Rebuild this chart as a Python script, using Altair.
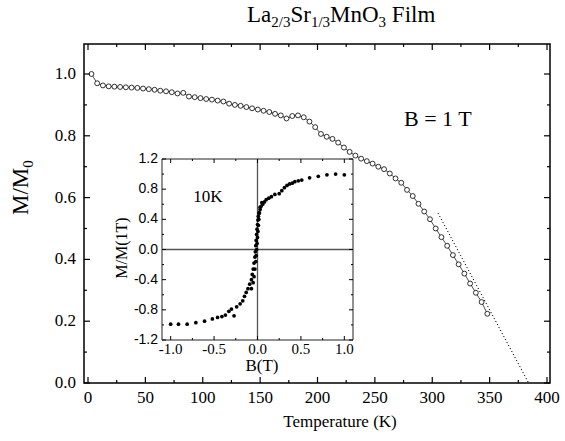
import altair as alt
import pandas as pd

# ---------------- data ----------------
temp_K = [3, 8, 13, 18, 23, 28, 33, 38, 43, 48, 53, 58, 63, 68, 73, 78, 83, 88, 93, 98,
          103, 108, 113, 118, 123, 128, 133, 138, 143, 148, 153, 158, 163, 168, 173, 178,
          183, 188, 193, 198, 203, 208, 213, 218, 223, 228, 233, 238, 243, 248, 253, 258,
          263, 268, 273, 278, 283, 288, 293, 298, 303, 308, 313, 318, 323, 328, 333, 338,
          343, 348]
m_norm = [1.000, 0.970, 0.963, 0.960, 0.959, 0.958, 0.957, 0.956, 0.955, 0.953, 0.951,
          0.949, 0.946, 0.944, 0.941, 0.937, 0.939, 0.927, 0.925, 0.922, 0.919, 0.917,
          0.914, 0.911, 0.904, 0.900, 0.897, 0.893, 0.889, 0.885, 0.881, 0.877, 0.871,
          0.866, 0.856, 0.864, 0.866, 0.860, 0.846, 0.828, 0.806, 0.797, 0.790, 0.778,
          0.762, 0.748, 0.736, 0.726, 0.718, 0.710, 0.700, 0.692, 0.678, 0.662, 0.648,
          0.625, 0.605, 0.580, 0.555, 0.530, 0.500, 0.472, 0.444, 0.414, 0.384, 0.354,
          0.322, 0.292, 0.262, 0.224]

fit_T = [305, 384]
fit_M = [0.55, 0.0]

field_T = [-1.00, -0.91, -0.81, -0.71, -0.61, -0.52, -0.46, -0.41, -0.37, -0.33, -0.30,
           -0.27, -0.24, -0.20, -0.17, -0.15, -0.13, -0.11, -0.09, -0.07, -0.06, -0.05,
           -0.04, -0.03, -0.025, -0.02, -0.015, -0.01, -0.005, 0.0, 0.005, 0.01, 0.02,
           0.03, 0.04, 0.06, 0.08, 0.10, 0.13, 0.16, 0.20, 0.25, 0.28, 0.31, 0.34, 0.37,
           0.40, 0.43, 0.47, 0.51, 0.60, 0.70, 0.80, 0.90, 1.00,
           0.05, 0.03, 0.02, 0.015, 0.01, 0.005, 0.0, -0.005, -0.01, -0.015, -0.02, -0.03,
           -0.04, -0.05, -0.07]
m_rel = [-0.99, -0.99, -0.99, -0.97, -0.95, -0.92, -0.90, -0.89, -0.87, -0.82, -0.79,
         -0.88, -0.76, -0.72, -0.68, -0.62, -0.57, -0.52, -0.46, -0.40, -0.33, -0.26,
         -0.18, -0.10, -0.03, 0.05, 0.12, 0.20, 0.27, 0.33, 0.39, 0.44, 0.49, 0.53, 0.57,
         0.60, 0.63, 0.66, 0.68, 0.70, 0.73, 0.74, 0.78, 0.82, 0.85, 0.87, 0.88, 0.90,
         0.91, 0.92, 0.95, 0.97, 0.99, 1.00, 0.99,
         0.62, 0.56, 0.48, 0.40, 0.32, 0.24, 0.16, 0.08, 0.0, -0.08, -0.16, -0.26,
         -0.36, -0.44, -0.52]

main_x_major = [0, 50, 100, 150, 200, 250, 300, 350, 400]
main_x_labels = ["0", "50", "100", "150", "200", "250", "300", "350", "400"]
main_x_minor = [25, 75, 125, 175, 225, 275, 325, 375]
main_y_major = [0.0, 0.2, 0.4, 0.6, 0.8, 1.0]
main_y_labels = ["0.0", "0.2", "0.4", "0.6", "0.8", "1.0"]
main_y_minor = [0.1, 0.3, 0.5, 0.7, 0.9]
ins_x_major = [-1.0, -0.5, 0.0, 0.5, 1.0]
ins_x_labels = ["-1.0", "-0.5", "0.0", "0.5", "1.0"]
ins_x_minor = [-0.75, -0.25, 0.25, 0.75]
ins_y_major = [-1.2, -0.8, -0.4, 0.0, 0.4, 0.8, 1.2]
ins_y_labels = ["-1.2", "-0.8", "-0.4", "0.0", "0.4", "0.8", "1.2"]
ins_y_minor = [-1.0, -0.6, -0.2, 0.2, 0.6, 1.0]

# ---------------- layout ----------------
W, H = 466, 339
PAD = {"left": 84, "top": 44, "right": 15, "bottom": 58}
SERIF = "Liberation Serif"
SANS = "Liberation Sans"

TIMES_W = {'L': 611, 'a': 444, 'S': 556, 'r': 333, 'M': 889, 'n': 500, 'O': 722,
           ' ': 250, 'F': 556, 'i': 278, 'l': 278, 'm': 778, '/': 278, '(': 333,
           ')': 333, 'T': 611, 'B': 667, '=': 564, 'K': 722}


def tw(s, fs):
    return sum(TIMES_W.get(c, 500) for c in s) * fs / 1000.0


xs = alt.Scale(domain=[-4 / 1.1475, 400 + 3 / 1.1475], nice=False, zero=False)
ys = alt.Scale(domain=[0, 1.0 + 30 / 309], nice=False, zero=False)

# inset box in plot pixels
IX0, IX1, IY0, IY1 = 78, 269, 115, 296
BMIN, BMAX, MMIN, MMAX = -1.1, 1.1, -1.2, 1.2
kx = (IX1 - IX0) / (BMAX - BMIN)
ky = (IY1 - IY0) / (MMAX - MMIN)
ixs = alt.Scale(domain=[BMIN - IX0 / kx, BMAX + (W - IX1) / kx], nice=False, zero=False)
iys = alt.Scale(domain=[MMIN - (H - IY1) / ky, MMAX + IY0 / ky], nice=False, zero=False)

one = pd.DataFrame({"a": [0]})


def label(txt, x, y, fs, font=SERIF, angle=0, align="left", baseline="alphabetic"):
    kw = dict(text=txt, font=font, fontSize=fs, color="black", align=align,
              baseline=baseline)
    if angle:
        kw["angle"] = angle
    return alt.Chart(one).mark_text(**kw).encode(x=alt.value(x), y=alt.value(y))


# ---------------- main panel ----------------
main_df = pd.DataFrame({"T": temp_K, "M": m_norm})
fit_df = pd.DataFrame({"T": fit_T, "M": fit_M})

line = alt.Chart(main_df).mark_line(color="black", strokeWidth=0.7).encode(
    x=alt.X("T:Q", scale=xs, axis=None), y=alt.Y("M:Q", scale=ys, axis=None))
pts = alt.Chart(main_df).mark_point(shape="circle", filled=True, fill="white",
                                    stroke="black", strokeWidth=0.8, size=24,
                                    opacity=1).encode(
    x=alt.X("T:Q", scale=xs, axis=None), y=alt.Y("M:Q", scale=ys, axis=None))
fit = alt.Chart(fit_df).mark_line(color="black", strokeWidth=1,
                                  strokeDash=[1.2, 2.2]).encode(
    x=alt.X("T:Q", scale=xs, axis=None), y=alt.Y("M:Q", scale=ys, axis=None))


def xticks(vals, scale, y0, y1, sw=1.2):
    return alt.Chart(pd.DataFrame({"v": vals})).mark_rule(
        color="black", strokeWidth=sw).encode(
        x=alt.X("v:Q", scale=scale, axis=None), y=alt.value(y0), y2=alt.value(y1))


def yticks(vals, scale, x0, x1, sw=1.2):
    return alt.Chart(pd.DataFrame({"v": vals})).mark_rule(
        color="black", strokeWidth=sw).encode(
        y=alt.Y("v:Q", scale=scale, axis=None), x=alt.value(x0), x2=alt.value(x1))


main_ticks = [
    xticks(main_x_major, xs, H, H - 6), xticks(main_x_minor, xs, H, H - 3),
    xticks(main_x_major, xs, 0, 6), xticks(main_x_minor, xs, 0, 3),
    yticks(main_y_major, ys, 0, 6), yticks(main_y_minor, ys, 0, 3),
    yticks(main_y_major, ys, W, W - 6), yticks(main_y_minor, ys, W, W - 3),
]

main_xlabs = alt.Chart(pd.DataFrame({"v": main_x_major, "t": main_x_labels})).mark_text(
    font=SERIF, fontSize=17, color="black", align="center", baseline="top").encode(
    x=alt.X("v:Q", scale=xs, axis=None), y=alt.value(H + 7), text="t:N")
main_ylabs = alt.Chart(pd.DataFrame({"v": main_y_major, "t": main_y_labels})).mark_text(
    font=SERIF, fontSize=17, color="black", align="right", baseline="middle").encode(
    y=alt.Y("v:Q", scale=ys, axis=None), x=alt.value(-8), text="t:N")

xtitle = label("Temperature (K)", 340 - PAD["left"], 427 - PAD["top"], 17,
               align="center")

# title with subscripts
title_parts = []
tx = 247 - PAD["left"]
tb = 22 - PAD["top"]
for txt, sub in [("La", False), ("2/3", True), ("Sr", False), ("1/3", True),
                 ("MnO", False), ("3", True), ("Film", False)]:
    fs = 15 if sub else 23
    if txt == "Film":
        tx += tw(" ", 23)
    title_parts.append(label(txt, tx, tb + (5 if sub else 0), fs))
    tx += tw(txt, fs)

# y title M/M0 rotated
ylab_x = 28 - PAD["left"]
ylab_start = 215 - PAD["top"]
yt = [label("M/M", ylab_x, ylab_start, 23, angle=270),
      label("0", ylab_x + 5, ylab_start - tw("M/M", 23), 15, angle=270)]

btext = label("B = 1 T", 404 - PAD["left"], 126 - PAD["top"], 22)

main = alt.layer(line, fit, pts, *main_ticks, main_xlabs, main_ylabs, xtitle,
                 *title_parts, *yt, btext)

# ---------------- inset ----------------
ins_df = pd.DataFrame({"B": field_T, "MR": m_rel})
box_df = pd.DataFrame({"b1": [BMIN], "b2": [BMAX], "m1": [MMIN], "m2": [MMAX]})

box = alt.Chart(box_df).mark_rect(fill="white", stroke="#222222", strokeWidth=1).encode(
    x=alt.X("b1:Q", scale=ixs, axis=None), x2="b2:Q",
    y=alt.Y("m1:Q", scale=iys, axis=None), y2="m2:Q")
zero_v = alt.Chart(pd.DataFrame({"v": [0.0]})).mark_rule(color="#555555",
                                                        strokeWidth=1.3).encode(
    x=alt.X("v:Q", scale=ixs, axis=None), y=alt.value(IY0), y2=alt.value(IY1))
zero_h = alt.Chart(pd.DataFrame({"v": [0.0]})).mark_rule(color="#555555",
                                                        strokeWidth=1.3).encode(
    y=alt.Y("v:Q", scale=iys, axis=None), x=alt.value(IX0), x2=alt.value(IX1))
dots = alt.Chart(ins_df).mark_circle(color="black", size=14, opacity=1).encode(
    x=alt.X("B:Q", scale=ixs, axis=None), y=alt.Y("MR:Q", scale=iys, axis=None))

ins_ticks = [
    xticks(ins_x_major, ixs, IY1, IY1 - 4, 1), xticks(ins_x_minor, ixs, IY1, IY1 - 2, 1),
    xticks(ins_x_major, ixs, IY0, IY0 + 4, 1), xticks(ins_x_minor, ixs, IY0, IY0 + 2, 1),
    yticks(ins_y_major, iys, IX0, IX0 + 4, 1), yticks(ins_y_minor, iys, IX0, IX0 + 2, 1),
    yticks(ins_y_major, iys, IX1, IX1 - 4, 1), yticks(ins_y_minor, iys, IX1, IX1 - 2, 1),
]

ylabs = alt.Chart(pd.DataFrame({"v": ins_y_major, "t": ins_y_labels})).mark_text(
    font=SANS, fontSize=14, color="black", align="right", baseline="middle").encode(
    y=alt.Y("v:Q", scale=iys, axis=None), x=alt.value(IX0 - 4), text="t:N")
xlabs = alt.Chart(pd.DataFrame({"v": ins_x_major, "t": ins_x_labels})).mark_text(
    font=SERIF, fontSize=15, color="black", align="center", baseline="top").encode(
    x=alt.X("v:Q", scale=ixs, axis=None), y=alt.value(IY1 + 2), text="t:N")

ins_texts = [
    label("M/M(1T)", 122 - PAD["left"], 248 - PAD["top"], 16, angle=270,
          align="center", baseline="middle"),
    label("B(T)", 262 - PAD["left"], 366 - PAD["top"], 17, align="center",
          baseline="middle"),
    label("10K", 208 - PAD["left"], 197 - PAD["top"], 17, align="center",
          baseline="middle"),
]

inset = alt.layer(box, zero_v, zero_h, dots, *ins_ticks, ylabs, xlabs, *ins_texts)

chart = alt.layer(main, inset).resolve_scale(x="independent", y="independent").properties(
    width=W, height=H, padding=PAD, autosize=alt.AutoSizeParams(type="none"),
    background="white"
).configure_view(stroke="black", strokeWidth=1.5)

chart.save("out.html", embed_options={"renderer": "svg", "actions": False})
